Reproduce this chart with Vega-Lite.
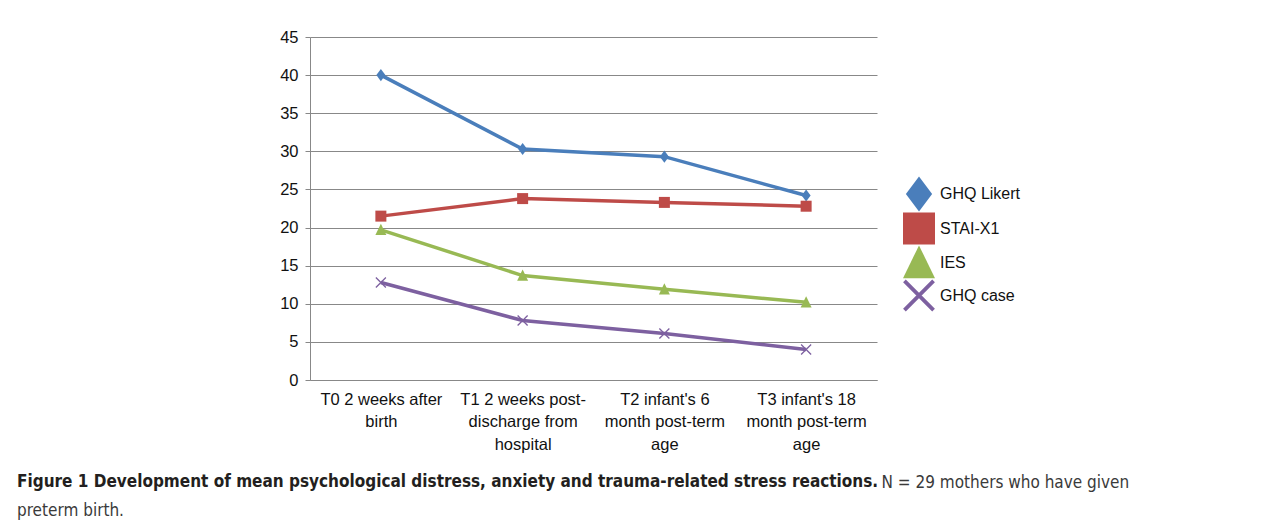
{
  "$schema": "https://vega.github.io/schema/vega-lite/v6.json",
  "width": 567,
  "height": 343,
  "autosize": {"type": "none"},
  "padding": {"left": 310, "top": 37, "right": 405, "bottom": 143},
  "background": "white",
  "config": {"view": {"stroke": null}, "font": "Liberation Sans"},
  "title": {
    "text": "Figure 1 Development of mean psychological distress, anxiety and trauma-related stress reactions.",
    "subtitle": "preterm birth.",
    "orient": "bottom",
    "anchor": "start",
    "frame": "group",
    "dx": -293,
    "offset": -16,
    "font": "DejaVu Sans Condensed",
    "fontSize": 17,
    "fontWeight": "bold",
    "color": "#231f20",
    "subtitleFont": "DejaVu Sans Condensed",
    "subtitleFontSize": 17,
    "subtitleColor": "#3a3a3a",
    "subtitlePadding": 12
  },
  "data": {
    "values": [
      {"time": "T0 2 weeks after birth", "measure": "GHQ Likert", "score": 40.0},
      {"time": "T1 2 weeks post-discharge from hospital", "measure": "GHQ Likert", "score": 30.3},
      {"time": "T2 infant's 6 month post-term age", "measure": "GHQ Likert", "score": 29.3},
      {"time": "T3 infant's 18 month post-term age", "measure": "GHQ Likert", "score": 24.2},
      {"time": "T0 2 weeks after birth", "measure": "STAI-X1", "score": 21.5},
      {"time": "T1 2 weeks post-discharge from hospital", "measure": "STAI-X1", "score": 23.8},
      {"time": "T2 infant's 6 month post-term age", "measure": "STAI-X1", "score": 23.3},
      {"time": "T3 infant's 18 month post-term age", "measure": "STAI-X1", "score": 22.8},
      {"time": "T0 2 weeks after birth", "measure": "IES", "score": 19.7},
      {"time": "T1 2 weeks post-discharge from hospital", "measure": "IES", "score": 13.7},
      {"time": "T2 infant's 6 month post-term age", "measure": "IES", "score": 11.9},
      {"time": "T3 infant's 18 month post-term age", "measure": "IES", "score": 10.2},
      {"time": "T0 2 weeks after birth", "measure": "GHQ case", "score": 12.8},
      {"time": "T1 2 weeks post-discharge from hospital", "measure": "GHQ case", "score": 7.8},
      {"time": "T2 infant's 6 month post-term age", "measure": "GHQ case", "score": 6.1},
      {"time": "T3 infant's 18 month post-term age", "measure": "GHQ case", "score": 4.0}
    ]
  },
  "encoding": {
    "x": {
      "field": "time",
      "type": "nominal",
      "scale": {"type": "point", "padding": 0.5},
      "axis": {
        "title": "N = 29 mothers who have given",
        "titleX": 571,
        "titleY": 102,
        "titleAlign": "left",
        "titleBaseline": "middle",
        "titleFont": "DejaVu Sans Condensed",
        "titleFontSize": 17,
        "titleFontWeight": "normal",
        "titleColor": "#3a3a3a",
        "labelAngle": 0,
        "ticks": false,
        "domainColor": "#888888",
        "labelFont": "Liberation Sans",
        "labelFontSize": 16.5,
        "labelLineHeight": 22.5,
        "labelPadding": 11,
        "labelColor": "#111111",
        "labelExpr": "indexof(datum.value,'T0')==0 ? ['T0 2 weeks after','birth'] : indexof(datum.value,'T1')==0 ? ['T1 2 weeks post-','discharge from','hospital'] : indexof(datum.value,'T2')==0 ? [\"T2 infant's 6\",'month post-term','age'] : [\"T3 infant's 18\",'month post-term','age']"
      }
    },
    "y": {
      "field": "score",
      "type": "quantitative",
      "scale": {"domain": [0, 45], "nice": false},
      "axis": {
        "title": null,
        "values": [0, 5, 10, 15, 20, 25, 30, 35, 40, 45],
        "grid": true,
        "gridColor": "#888888",
        "gridOpacity": 1,
        "domainColor": "#888888",
        "tickColor": "#888888",
        "tickSize": 5,
        "labelFont": "Liberation Sans",
        "labelFontSize": 16.5,
        "labelColor": "#111111",
        "labelPadding": 7
      }
    }
  },
  "layer": [
    {
      "mark": {"type": "line", "strokeWidth": 3.5},
      "encoding": {
        "color": {
          "field": "measure",
          "type": "nominal",
          "scale": {
            "domain": ["GHQ Likert", "STAI-X1", "IES", "GHQ case"],
            "range": ["#4a7ebb", "#be4b48", "#98b954", "#7d60a0"]
          },
          "legend": {
            "orient": "none",
            "legendX": 593,
            "legendY": 141,
            "title": null,
            "symbolSize": 1024,
            "symbolStrokeWidth": 3.5,
            "labelFont": "Liberation Sans",
            "labelFontSize": 16,
            "labelColor": "#111111",
            "labelOffset": 5,
            "rowPadding": 0.5,
            "padding": 0,
            "encode": {
              "symbols": {
                "update": {
                  "shape": {"signal": "datum.value=='GHQ Likert' ? 'M-1.19,-0.11H1.19V0.11H-1.19Z M0,-0.31L0.28,0L0,0.31L-0.28,0Z' : datum.value=='STAI-X1' ? 'M-1.19,-0.11H1.19V0.11H-1.19Z M-0.375,-0.375H0.375V0.375H-0.375Z' : datum.value=='IES' ? 'M-1.19,-0.11H1.19V0.11H-1.19Z M0,-0.4L0.4,0.33L-0.4,0.33Z' : 'M-1.19,-0.11H1.19V0.11H-1.19Z M-0.305,-0.375L0.375,0.305L0.305,0.375L-0.375,-0.305Z M0.305,-0.375L0.375,-0.305L-0.305,0.375L-0.375,0.305Z'"},
                  "fill": {"scale": "color", "field": "value"},
                  "fillOpacity": {"value": 1},
                  "opacity": {"value": 1},
                  "strokeWidth": {"value": 0}
                }
              }
            }
          }
        }
      }
    },
    {
      "mark": {"type": "point", "filled": true, "opacity": 1, "size": 121},
      "encoding": {
        "color": {
          "field": "measure",
          "type": "nominal",
          "legend": null
        },
        "shape": {
          "field": "measure",
          "type": "nominal",
          "scale": {
            "domain": ["GHQ Likert", "STAI-X1", "IES", "GHQ case"],
            "range": ["M0,-1.1L0.82,0L0,1.1L-0.82,0Z", "square", "M0,-1.1L1,0.95L-1,0.95Z", "M-0.826,-0.994L0.994,0.826L0.826,0.994L-0.994,-0.826Z M0.826,-0.994L0.994,-0.826L-0.826,0.994L-0.994,0.826Z"]
          },
          "legend": null
        }
      }
    }
  ]
}
